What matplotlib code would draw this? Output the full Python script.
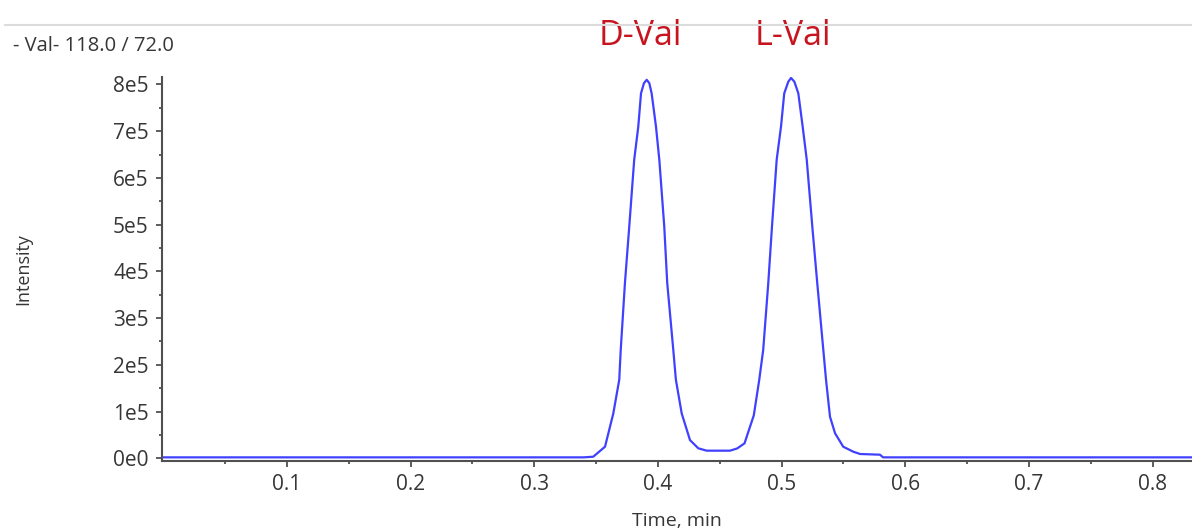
import numpy as np
import matplotlib
matplotlib.use("Agg")
import matplotlib.pyplot as plt
from matplotlib.lines import Line2D
from matplotlib.transforms import blended_transform_factory

plt.rcParams['font.family'] = ['Open Sans', 'DejaVu Sans']

# trace (time in min, intensity in counts)
time_min = [0.000, 0.340, 0.3477, 0.3572, 0.3639, 0.3687, 0.3699, 0.3733, 0.3768,
            0.3808, 0.3841, 0.3863, 0.3887, 0.3909, 0.3930, 0.3949, 0.3984, 0.4011,
            0.4051, 0.4075, 0.4124, 0.4145, 0.4192, 0.4259, 0.4326, 0.4394, 0.4485,
            0.4582, 0.4640, 0.4700, 0.4775, 0.4819, 0.4851, 0.4892, 0.4922, 0.4960,
            0.4995, 0.5021, 0.5054, 0.5076, 0.5103, 0.5135, 0.5170, 0.5203, 0.5248,
            0.5288, 0.5337, 0.5359, 0.5391, 0.5432, 0.5498, 0.5579, 0.5634, 0.5795,
            0.5820, 0.840]
intensity = [2000, 2000, 3400, 24800, 96000, 168000, 232000, 375000, 496000,
             639000, 710000, 781000, 803000, 810000, 803000, 781000, 710000, 639000,
             496000, 375000, 232000, 168000, 96000, 39000, 21400, 16300, 16300,
             16300, 21000, 32000, 92000, 168000, 232000, 375000, 496000, 639000,
             710000, 781000, 806000, 814000, 806000, 781000, 710000, 639000, 496000,
             375000, 232000, 168000, 89000, 53500, 24800, 14100, 9200, 7700,
             2000, 2000]

peak_names = ['D-Val', 'L-Val']
label_times = [0.3855, 0.5088]

x_ticks = [0.1, 0.2, 0.3, 0.4, 0.5, 0.6, 0.7, 0.8]
y_ticks = [0, 1e5, 2e5, 3e5, 4e5, 5e5, 6e5, 7e5, 8e5]
y_labels = ['0e0', '1e5', '2e5', '3e5', '4e5', '5e5', '6e5', '7e5', '8e5']

W, H = 1192, 532
fig = plt.figure(figsize=(W / 100, H / 100), dpi=100)
ax = fig.add_axes([162 / W, 1 - 461 / H, 1 - 162 / W, (461 - 77) / H])

ax.plot(time_min, intensity, color='#4040ff', lw=1.6)

ax.set_xlim(-0.001, 0.8318)
ax.set_ylim(-5800, 816000)

ax.set_xticks(x_ticks)
ax.set_xticklabels([f'{v:.1f}' for v in x_ticks])
ax.set_xticks(np.arange(0.05, 0.84, 0.1), minor=True)
ax.set_yticks(y_ticks)
ax.set_yticklabels(y_labels)
ax.set_yticks(np.arange(0.5e5, 8.1e5, 1e5), minor=True)

txt = '#363636'
for s in ['top', 'right']:
    ax.spines[s].set_visible(False)
for s in ['left', 'bottom']:
    ax.spines[s].set_color('#505050')
    ax.spines[s].set_linewidth(1.5)
ax.tick_params(which='major', length=4.5, width=1.3, color='#505050',
               labelsize=15, labelcolor=txt, pad=5)
ax.tick_params(which='minor', length=2.2, width=1.3, color='#505050')

ax.set_xlabel('Time, min', fontsize=14, color=txt, labelpad=12)
ax.set_ylabel('Intensity', fontsize=13, color=txt, labelpad=58)

fig.text(13 / W, 1 - 50.7 / H, '- Val- 118.0 / 72.0', fontsize=14.5, color=txt,
         ha='left', va='baseline')
fig.add_artist(Line2D([5 / W, 1], [1 - 25 / H, 1 - 25 / H], color='#dcdcdc', lw=1.5))

trans = blended_transform_factory(ax.transData, fig.transFigure)
for name, t in zip(peak_names, label_times):
    ax.text(t, 1 - 45 / H, name, transform=trans, ha='center', va='baseline',
            fontsize=24.5, color='#c8141e', clip_on=False)

fig.savefig('out.png', dpi=100)
